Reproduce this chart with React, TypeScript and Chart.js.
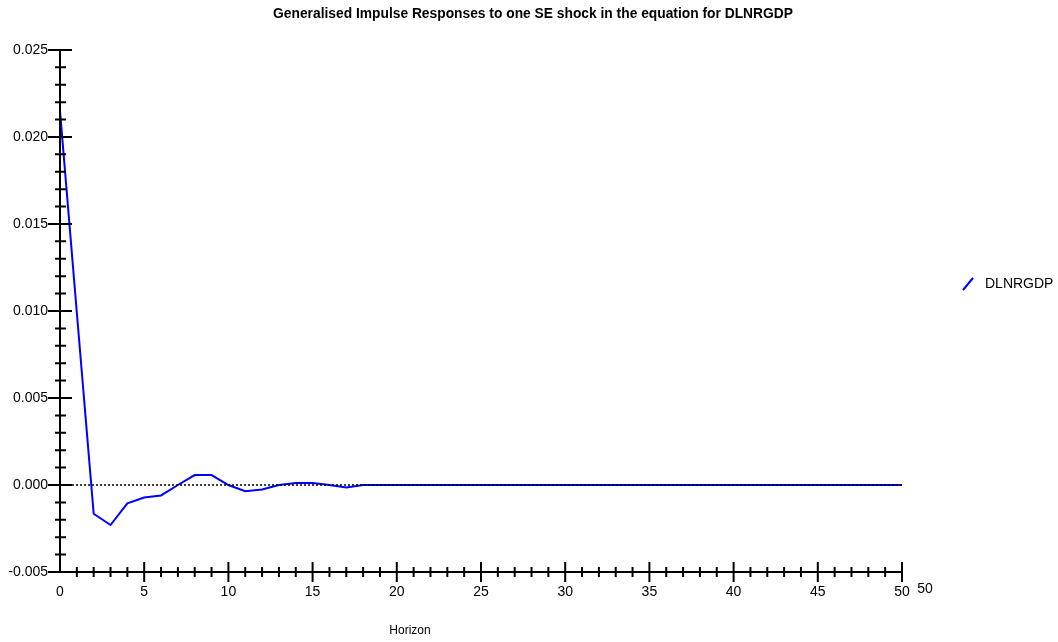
import React, { useEffect, useRef } from 'react';
import { Chart, registerables } from 'chart.js';

Chart.register(...registerables);

// ---- data ----
const TITLE = 'Generalised Impulse Responses to one SE shock in the equation for DLNRGDP';
const SERIES_NAME = 'DLNRGDP';
const X_TITLE = 'Horizon';
const X_EXTRA_LABEL = '50';

const horizons = [
  0, 1, 2, 3, 4, 5, 6, 7, 8, 9, 10, 11, 12, 13, 14, 15, 16, 17, 18, 19, 20, 21, 22, 23, 24, 25,
  26, 27, 28, 29, 30, 31, 32, 33, 34, 35, 36, 37, 38, 39, 40, 41, 42, 43, 44, 45, 46, 47, 48, 49, 50,
];
const dlnrgdp = [
  0.0215, 0.0099, -0.00165, -0.0023, -0.00105, -0.00072, -0.0006, 0.0, 0.00057, 0.00057, 0.0,
  -0.00036, -0.00026, 0.0, 0.00011, 0.00011, 0.0, -0.00014, 0.0, 0.0, 0.0, 0.0, 0.0, 0.0, 0.0, 0.0,
  0.0, 0.0, 0.0, 0.0, 0.0, 0.0, 0.0, 0.0, 0.0, 0.0, 0.0, 0.0, 0.0, 0.0, 0.0, 0.0, 0.0, 0.0, 0.0, 0.0,
  0.0, 0.0, 0.0, 0.0, 0.0,
];
const zeroLineX = [0, 50];
const zeroLineY = [0, 0];

const xTicks = [0, 5, 10, 15, 20, 25, 30, 35, 40, 45, 50];
const yTicks = [-0.005, 0.0, 0.005, 0.01, 0.015, 0.02, 0.025];
const X_MIN = 0;
const X_MAX = 50;
const Y_MIN = -0.005;
const Y_MAX = 0.025;
const X_MINOR_STEP = 1;
const Y_MINOR_STEP = 0.001;

const FONT = '"Liberation Sans", Arial, sans-serif';

const crossAxesPlugin = {
  id: 'crossAxes',
  afterDatasetsDraw(chart: any) {
    const { ctx, scales } = chart;
    const xs = scales.x;
    const ys = scales.y;
    const x0 = xs.getPixelForValue(X_MIN);
    const x1 = xs.getPixelForValue(X_MAX);
    const yb = ys.getPixelForValue(Y_MIN);
    const yt = ys.getPixelForValue(Y_MAX);
    ctx.save();
    ctx.strokeStyle = '#000';
    ctx.lineWidth = 2;
    ctx.beginPath();
    ctx.moveTo(x0, yt);
    ctx.lineTo(x0, yb);
    ctx.moveTo(x0, yb);
    ctx.lineTo(x1, yb);
    const nY = Math.round((Y_MAX - Y_MIN) / Y_MINOR_STEP);
    for (let i = 0; i <= nY; i++) {
      const py = ys.getPixelForValue(Y_MIN + i * Y_MINOR_STEP);
      const major = i % 5 === 0;
      ctx.moveTo(x0 - (major ? 12 : 5), py);
      ctx.lineTo(x0 + (major ? 12 : 6), py);
    }
    const nX = Math.round((X_MAX - X_MIN) / X_MINOR_STEP);
    for (let i = 1; i <= nX; i++) {
      const px = xs.getPixelForValue(X_MIN + i * X_MINOR_STEP);
      const major = i % 5 === 0;
      ctx.moveTo(px, yb - (major ? 10 : 5));
      ctx.lineTo(px, yb + (major ? 10 : 5));
    }
    ctx.stroke();
    ctx.restore();
  },
  afterDraw(chart: any) {
    const { ctx, scales } = chart;
    const xs = scales.x;
    const yb = scales.y.getPixelForValue(Y_MIN);
    ctx.save();
    // legend
    ctx.strokeStyle = '#0000ff';
    ctx.lineWidth = 2;
    ctx.beginPath();
    ctx.moveTo(963, 290);
    ctx.lineTo(973, 278);
    ctx.stroke();
    ctx.fillStyle = '#000';
    ctx.font = `14px ${FONT}`;
    ctx.textBaseline = 'middle';
    ctx.textAlign = 'left';
    ctx.fillText(SERIES_NAME, 985, 284);
    // extra axis label
    ctx.textAlign = 'center';
    ctx.fillText(X_EXTRA_LABEL, xs.getPixelForValue(X_MAX) + 23, yb + 17);
    // x title
    ctx.font = `12px ${FONT}`;
    ctx.fillText(X_TITLE, 410, 631);
    ctx.restore();
  },
};

export default function App() {
  const ref = useRef<HTMLCanvasElement | null>(null);
  useEffect(() => {
    if (!ref.current) return;
    const chart = new Chart(ref.current, {
      type: 'line',
      data: {
        datasets: [
          {
            label: 'zero',
            data: zeroLineX.map((x, i) => ({ x, y: zeroLineY[i] })),
            borderColor: '#000',
            borderWidth: 1.5,
            borderDash: [2, 2],
            pointRadius: 0,
            order: 0,
          },
          {
            label: SERIES_NAME,
            data: horizons.map((h, i) => ({ x: h, y: dlnrgdp[i] })),
            borderColor: '#0000ff',
            borderWidth: 2,
            pointRadius: 0,
            tension: 0,
            order: 1,
          },
        ],
      },
      options: {
        animation: false,
        responsive: false,
        layout: { padding: { left: 8, right: 0, top: 0, bottom: 0 } },
        plugins: {
          legend: { display: false },
          tooltip: { enabled: false },
          title: {
            display: true,
            text: TITLE,
            color: '#000',
            font: { family: FONT, size: 13.8, weight: 'bold' },
            padding: { top: 6, bottom: 27.4 },
          },
        },
        scales: {
          x: {
            type: 'linear',
            min: X_MIN,
            max: X_MAX,
            grid: { display: false, drawTicks: false },
            border: { display: false },
            afterBuildTicks: (s: any) => {
              s.ticks = xTicks.map((v) => ({ value: v }));
            },
            afterFit: (s: any) => {
              s.height = 70;
            },
            ticks: {
              color: '#000',
              font: { family: FONT, size: 14 },
              padding: 12,
              maxRotation: 0,
              autoSkip: false,
            },
          },
          y: {
            type: 'linear',
            min: Y_MIN,
            max: Y_MAX,
            grid: { display: false, drawTicks: false },
            border: { display: false },
            afterBuildTicks: (s: any) => {
              s.ticks = yTicks.map((v) => ({ value: v }));
            },
            afterFit: (s: any) => {
              s.width = 52;
            },
            ticks: {
              color: '#000',
              font: { family: FONT, size: 14 },
              padding: 12,
              callback: (v: any) => Number(v).toFixed(3),
            },
          },
          yRight: {
            type: 'linear',
            position: 'right',
            min: Y_MIN,
            max: Y_MAX,
            grid: { display: false, drawTicks: false },
            border: { display: false },
            ticks: { display: false },
            afterFit: (s: any) => {
              s.width = 156;
            },
          },
        },
      },
      plugins: [crossAxesPlugin],
    });
    return () => chart.destroy();
  }, []);
  return (
    <div style={{ position: 'absolute', left: 0, top: 0, width: 1058, height: 642, background: '#fff' }}>
      <canvas ref={ref} width={1058} height={642} style={{ display: 'block' }} />
    </div>
  );
}
